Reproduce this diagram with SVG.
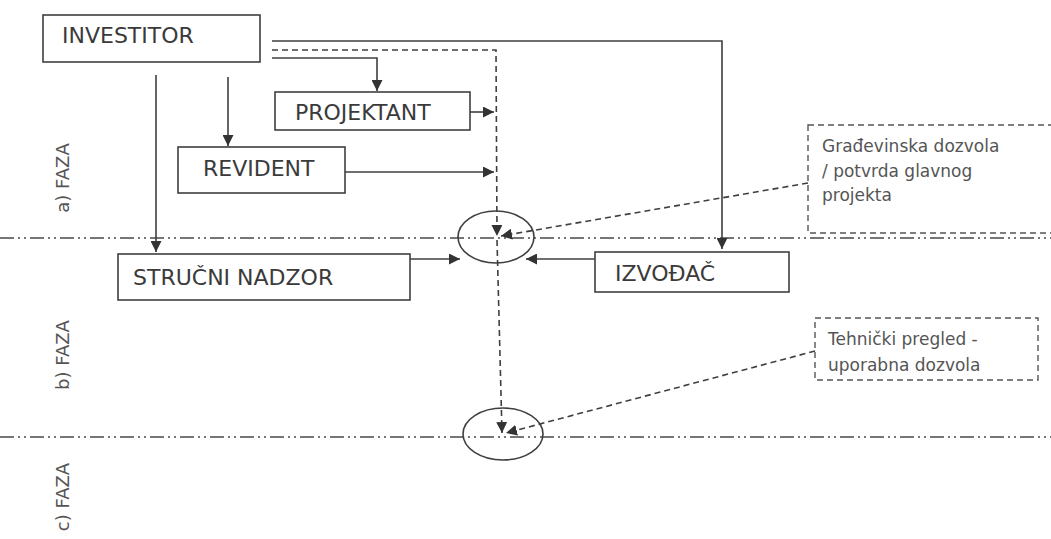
<svg xmlns="http://www.w3.org/2000/svg" width="1051" height="539" viewBox="0 0 1051 539">
  <style>
    .box { fill: #ffffff; stroke: #3f3f3f; stroke-width: 1.6; }
    .lbl { font-family: "DejaVu Sans", Verdana, sans-serif; font-size: 22px; fill: #3a3a3a; }
    .note { font-family: "DejaVu Sans", Verdana, sans-serif; font-size: 17px; fill: #555555; }
    .phase { font-family: "DejaVu Sans", Verdana, sans-serif; font-size: 18px; fill: #555555; }
    .wire { fill: none; stroke: #3f3f3f; stroke-width: 1.6; }
    .dash { fill: none; stroke: #3f3f3f; stroke-width: 1.6; stroke-dasharray: 6 4; }
    .note-box { fill: none; stroke: #555555; stroke-width: 1.4; stroke-dasharray: 6 4; }
    .phase-line { fill: none; stroke: #4a4a4a; stroke-width: 1.5; stroke-dasharray: 14 4 2 4 2 4; }
    .node-ring { fill: none; stroke: #3f3f3f; stroke-width: 1.6; }
  </style>
  <defs>
    <marker id="arrowBig" viewBox="0 0 10 10" refX="10" refY="5" markerWidth="11" markerHeight="11" markerUnits="userSpaceOnUse" orient="auto">
      <path d="M0,0 L10,5 L0,10 Z" fill="#333333"/>
    </marker>
  </defs>

  <rect width="1051" height="539" fill="#ffffff"/>

  <!-- phase separators -->
  <g id="phases">
    <line class="phase-line" x1="0" y1="238" x2="1051" y2="238"/>
    <line class="phase-line" x1="0" y1="437" x2="1051" y2="437"/>
    <text class="phase" transform="translate(69,178) rotate(-90)" text-anchor="middle">a) FAZA</text>
    <text class="phase" transform="translate(69,355) rotate(-90)" text-anchor="middle">b) FAZA</text>
    <text class="phase" transform="translate(69,497) rotate(-90)" text-anchor="middle">c) FAZA</text>
  </g>

  <!-- connectors -->
  <g id="connectors">
    <polyline class="wire" points="272,41 722,41 722,249" marker-end="url(#arrowBig)"/>
    <polyline class="dash" points="272,50 496,50 497,236" marker-end="url(#arrowBig)"/>
    <line class="dash" x1="497" y1="240" x2="502" y2="433" marker-end="url(#arrowBig)"/>
    <polyline class="wire" points="272,58 377,58 377,91" marker-end="url(#arrowBig)"/>
    <line class="wire" x1="470" y1="112" x2="494" y2="112" marker-end="url(#arrowBig)"/>
    <line class="wire" x1="228" y1="77" x2="228" y2="146" marker-end="url(#arrowBig)"/>
    <line class="wire" x1="345" y1="172" x2="494" y2="172" marker-end="url(#arrowBig)"/>
    <line class="wire" x1="156" y1="75" x2="156" y2="252" marker-end="url(#arrowBig)"/>
    <line class="wire" x1="410" y1="259" x2="460" y2="259" marker-end="url(#arrowBig)"/>
    <line class="wire" x1="595" y1="259" x2="526" y2="259" marker-end="url(#arrowBig)"/>
    <line class="dash" x1="808" y1="183" x2="501" y2="236" marker-end="url(#arrowBig)"/>
    <line class="dash" x1="815" y1="351" x2="506" y2="433" marker-end="url(#arrowBig)"/>
  </g>

  <!-- decision points -->
  <g id="milestone-a">
    <ellipse class="node-ring" cx="496" cy="237" rx="38" ry="26"/>
  </g>
  <g id="milestone-b">
    <ellipse class="node-ring" cx="503" cy="434" rx="40" ry="26"/>
  </g>

  <g id="investitor">
    <rect class="box" x="43" y="15" width="217" height="47"/>
    <text class="lbl" x="62" y="43">INVESTITOR</text>
  </g>
  <g id="projektant">
    <rect class="box" x="275" y="92" width="195" height="38"/>
    <text class="lbl" x="295" y="120">PROJEKTANT</text>
  </g>
  <g id="revident">
    <rect class="box" x="178" y="147" width="167" height="46"/>
    <text class="lbl" x="203" y="176">REVIDENT</text>
  </g>
  <g id="strucni-nadzor">
    <rect class="box" x="118" y="254" width="292" height="46"/>
    <text class="lbl" x="133" y="285">STRUČNI NADZOR</text>
  </g>
  <g id="izvodac">
    <rect class="box" x="595" y="252" width="194" height="40"/>
    <text class="lbl" x="615" y="281">IZVOĐAČ</text>
  </g>

  <g id="gradjevinska-dozvola">
    <rect class="note-box" x="808" y="125" width="260" height="108"/>
    <text class="note" x="822" y="152">Građevinska dozvola</text>
    <text class="note" x="822" y="177">/ potvrda glavnog</text>
    <text class="note" x="822" y="201">projekta</text>
  </g>
  <g id="tehnicki-pregled">
    <rect class="note-box" x="815" y="318" width="223" height="62"/>
    <text class="note" x="828" y="345">Tehnički pregled -</text>
    <text class="note" x="828" y="371">uporabna dozvola</text>
  </g>
</svg>
